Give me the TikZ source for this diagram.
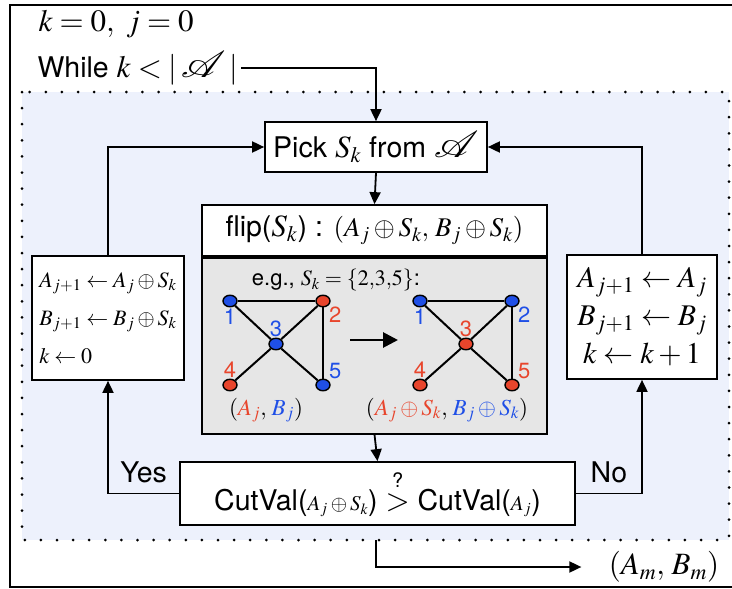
\documentclass[tikz,border=0pt]{standalone}
\usepackage{mathptmx}
\usepackage[no-math]{fontspec}
\setmainfont{TeX Gyre Heros}
\usetikzlibrary{arrows.meta,positioning,shapes.geometric}
\DeclareFontFamily{U}{scrA}{\skewchar\font=127}
\DeclareFontShape{U}{scrA}{m}{n}{<-> rsfs10}{}
\DeclareMathAlphabet{\mathscrA}{U}{scrA}{m}{n}
\DeclareMathSizes{28.5}{31}{22}{16}
\definecolor{bgblue}{HTML}{EDF1FC}
\definecolor{flipgray}{HTML}{E6E6E6}
\definecolor{nodered}{HTML}{E8452C}
\definecolor{nodeblue}{HTML}{1F4FE6}
\newcommand{\bigfont}{\fontsize{28.5}{34}\selectfont}
\newcommand{\midfont}{\fontsize{22}{38}\selectfont}
\newcommand{\smallmath}{\fontsize{21}{24}\selectfont}
\newcommand{\setA}{\mathord{\scalebox{1.4}[1.2]{$\mathscrA{A}$}}}

\begin{document}
\begin{tikzpicture}[x=1pt, y=-1pt, font=\bigfont,
  box/.style={draw, line width=1.7pt, fill=white, inner sep=0pt},
  arr/.style={line width=1.8pt, -{Triangle[length=12pt,width=11pt]}},
  gnode/.style={ellipse, draw, line width=1.4pt, minimum width=14pt, minimum height=11.5pt, inner sep=0pt},
  rnode/.style={gnode, fill=nodered},
  bnode/.style={gnode, fill=nodeblue},
  lbl/.style={font=\fontsize{22}{24}\selectfont, inner sep=1pt},
  edge/.style={line width=2pt}]
  \useasboundingbox (0,0) rectangle (732,589);
  % Frame and loop region
  \draw[line width=1.8pt] (760,5) -- (10,5) -- (10,587) -- (760,587);
  \draw[fill=bgblue, line width=3pt, line cap=round, dash pattern=on 0pt off 16.1pt] (22,92) rectangle (729,540);

  % Header
  \node[anchor=west] (init) at (35,24) {$k=0,\ j=0$};
  \node[anchor=west] (while) at (34,68) {While $k<|\,\setA\,|$};

  % Main boxes
  \node[box, minimum width=222pt, minimum height=50pt] (pick) at (376,147) {Pick $S_k$ from $\setA$};
  \node[box, minimum width=345pt, minimum height=51pt] (flip) at (374.5,230.5)
    {flip($S_k$) : {\fontsize{27}{30}\selectfont$(A_j\oplus S_k,\, B_j\oplus S_k)$}};
  \node[box, fill=flipgray, minimum width=345pt, minimum height=176pt, below=0pt of flip] (body) {};
  \node[box, minimum width=395pt, minimum height=63pt] (cut) at (377.5,493.5)
    {CutVal({\smallmath$A_j\oplus S_k$}) $\stackrel{\mbox{\fontsize{20}{20}\selectfont ?}}{>}$ CutVal({\smallmath$A_j$})};
  \node[box, minimum width=152pt, minimum height=124pt, align=left, font=\midfont] (accept) at (108,318)
    {$A_{j+1}\leftarrow A_j\oplus S_k$\\$B_{j+1}\leftarrow B_j\oplus S_k$\\$k\leftarrow 0$};
  \node[box, minimum width=150pt, minimum height=124pt, align=center, font=\fontsize{30}{38}\selectfont] (reject) at (642,317)
    {$A_{j+1}\leftarrow A_j$\\$B_{j+1}\leftarrow B_j$\\$k\leftarrow k+1$};

  % Example inside flip box
  \node[lbl] (eg) at (336,280) {e.g., $S_k=\{2{,}3{,}5\}$:};
  \node[bnode, label={[lbl, nodeblue]below:1}] (l1) at (230,301) {};
  \node[rnode, label={[lbl, nodered]below right:2}] (l2) at (323,301) {};
  \node[bnode, label={[lbl, nodeblue]above:3}] (l3) at (276,344) {};
  \node[rnode, label={[lbl, nodered]above:4}] (l4) at (230,385) {};
  \node[bnode, label={[lbl, nodeblue]above right:5}] (l5) at (323,385) {};
  \node[bnode, label={[lbl, nodeblue]below:1}] (r1) at (420,301) {};
  \node[bnode, label={[lbl, nodeblue]below right:2}] (r2) at (512,301) {};
  \node[rnode, label={[lbl, nodered]above:3}] (r3) at (466,344) {};
  \node[rnode, label={[lbl, nodered]above:4}] (r4) at (420,385) {};
  \node[rnode, label={[lbl, nodered]above right:5}] (r5) at (512,385) {};
  \foreach \g in {l,r}
    \foreach \a/\b in {1/2,1/3,2/3,2/5,3/4,3/5}
      \draw[edge] (\g\a) -- (\g\b);
  \coordinate (fromL) at (350,340);
  \coordinate (toR) at (398,340);
  \draw[line width=2.8pt, -{Triangle[length=15pt,width=15pt]}] (fromL) -- (toR);
  \node[font=\fontsize{23}{26}\selectfont] (before) at (266,410) {$(\textcolor{nodered}{A_j},\, \textcolor{nodeblue}{B_j})$};
  \node[font=\fontsize{23}{26}\selectfont] (after) at (447,410)
    {$(\textcolor{nodered}{A_j\oplus S_k},\, \textcolor{nodeblue}{B_j\oplus S_k})$};

  % Connectors
  \draw[arr] (while.east) -| (pick.north);
  \draw[arr] (pick.south) -- (flip.north);
  \draw[arr] (body.south) -- (cut.north);
  \draw[arr] (cut.west) -| (accept.south) node[pos=0.25, above=6pt] (yes) {Yes};
  \draw[arr] (cut.east) -| (reject.south) node[pos=0.25, above=6pt] (no) {No};
  \draw[arr] (accept.north) |- (pick.west);
  \draw[arr] (reject.north) |- (pick.east);

  % Exit
  \coordinate (exit) at (376,540);
  \node (result) at (664,567) {$(A_m,\, B_m)$};
  \draw[arr, shorten >=24pt] (exit) |- (result.west);
\end{tikzpicture}
\end{document}
